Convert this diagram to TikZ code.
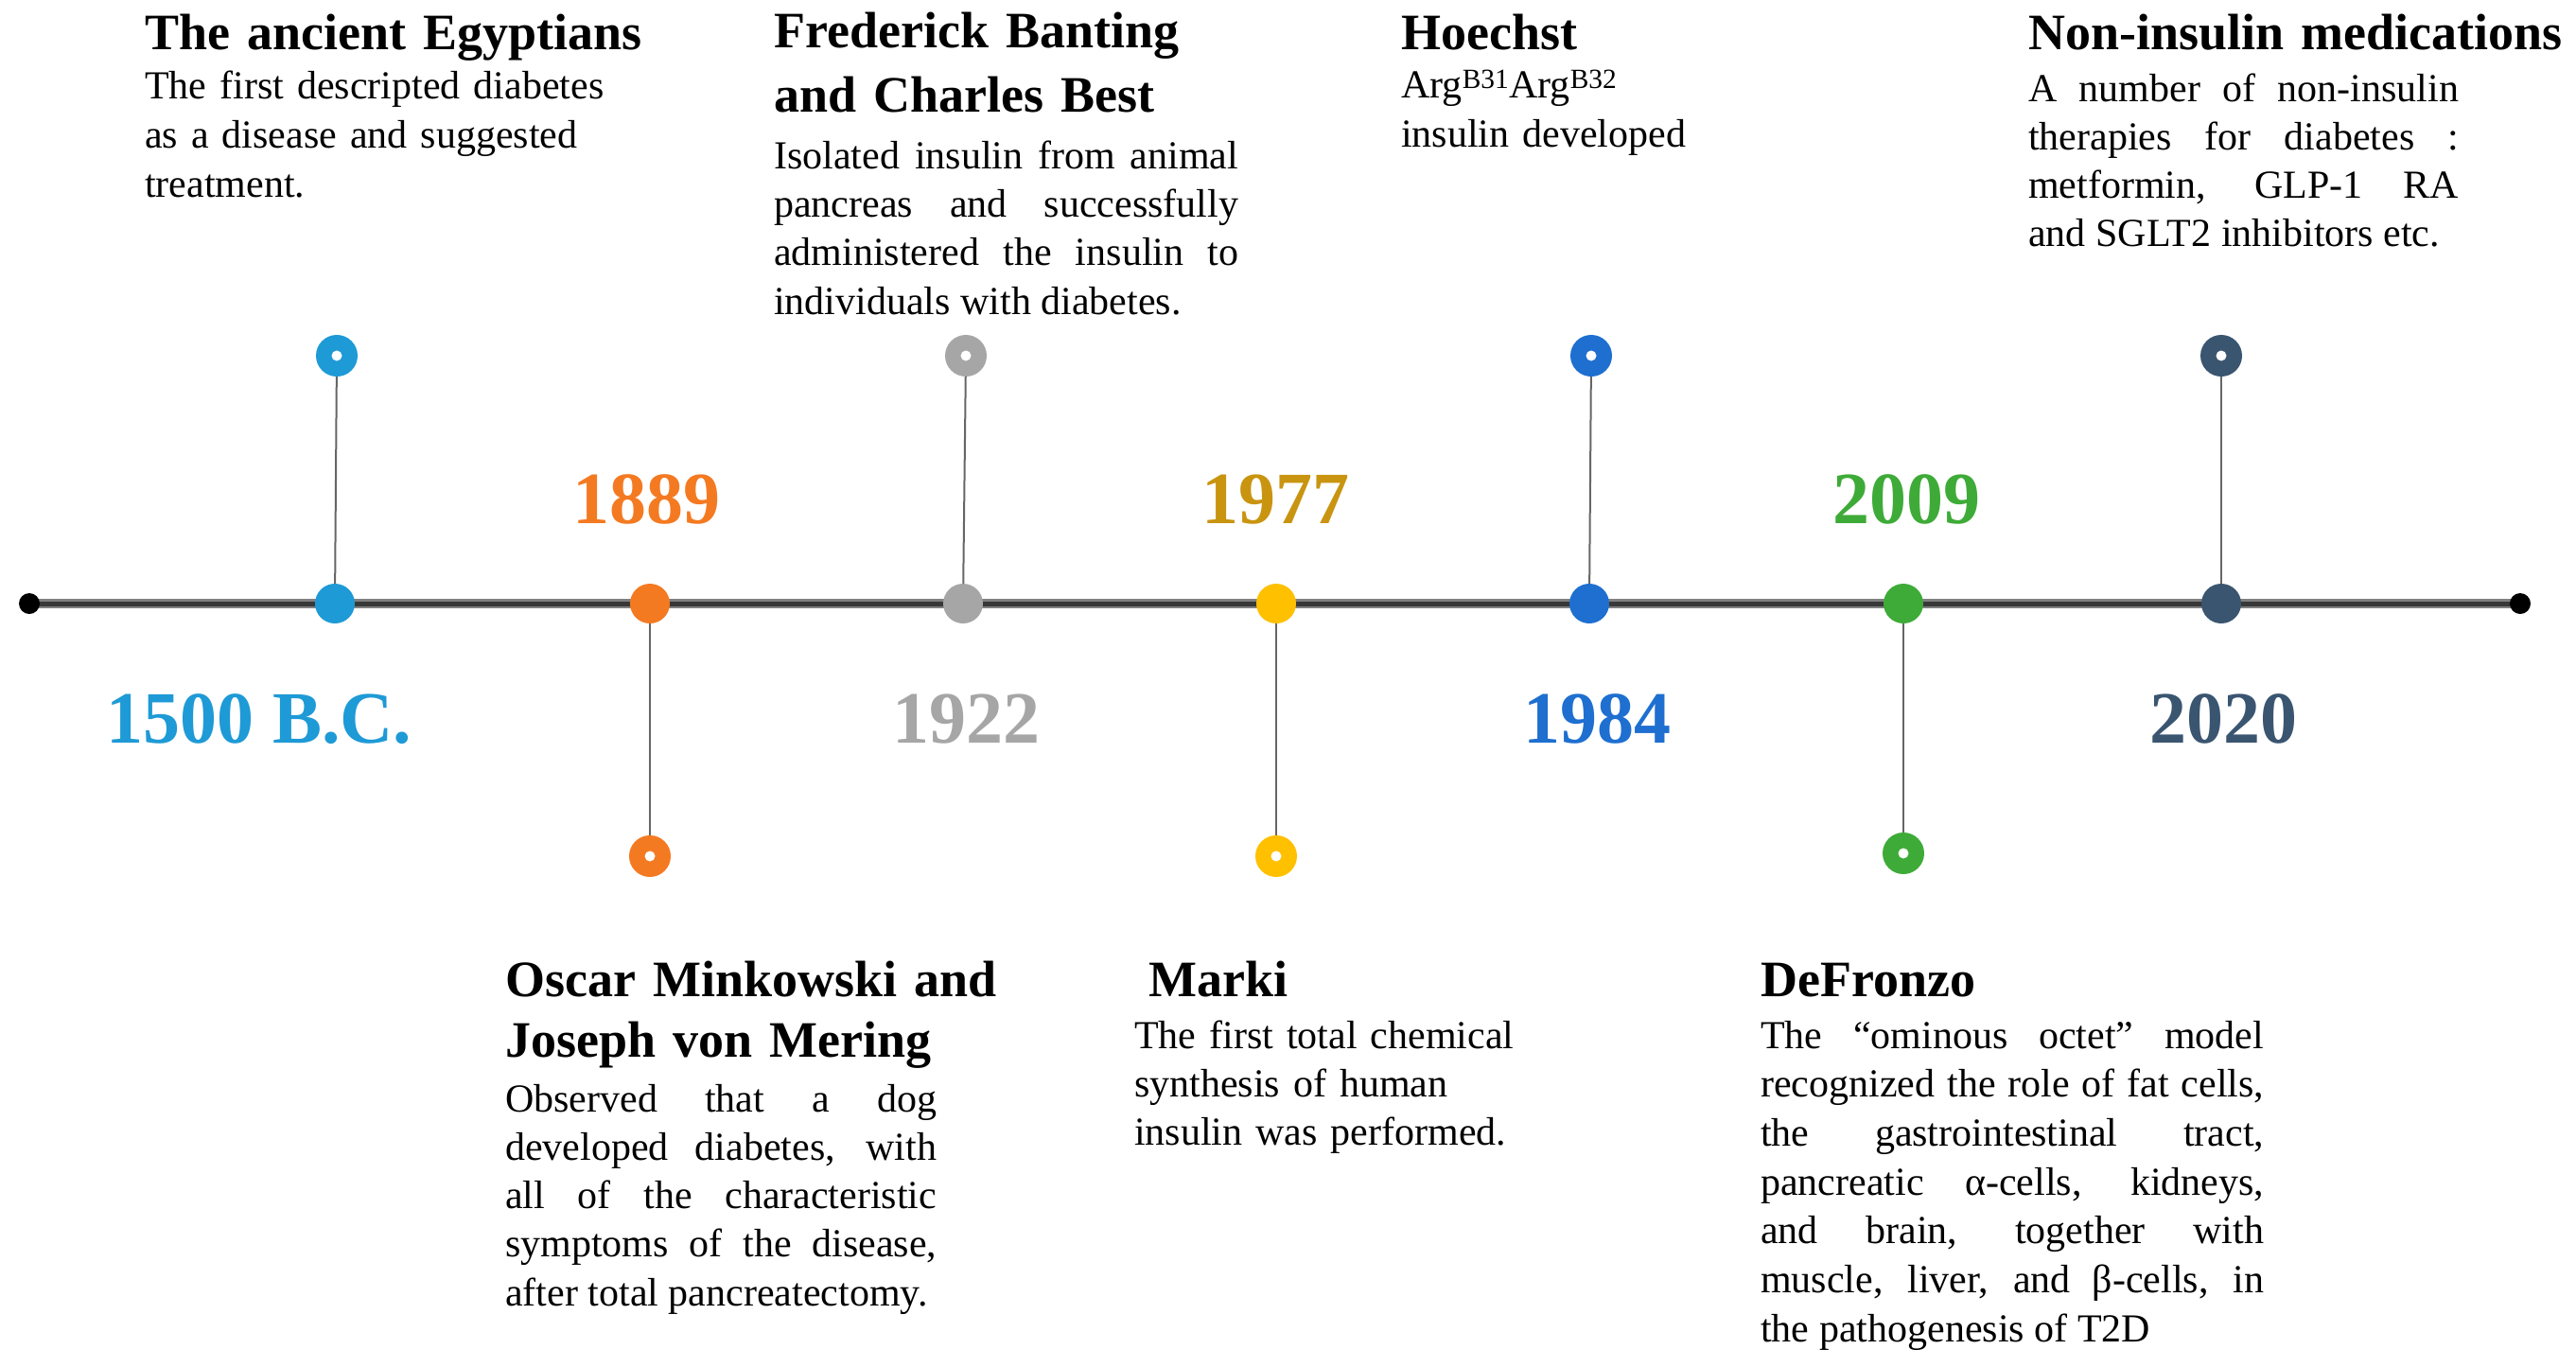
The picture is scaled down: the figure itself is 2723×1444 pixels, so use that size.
\documentclass[tikz,border=0pt]{standalone}
\usepackage{fontspec}
\setmainfont{Liberation Serif}
\definecolor{cA}{HTML}{1E9AD6}
\definecolor{cB}{HTML}{F47A22}
\definecolor{cC}{HTML}{A6A6A6}
\definecolor{cD}{HTML}{FFC000}
\definecolor{cDt}{HTML}{C99410}
\definecolor{cE}{HTML}{1E6FD0}
\definecolor{cF}{HTML}{3EAB38}
\definecolor{cG}{HTML}{3A5570}
\begin{document}
\begin{tikzpicture}[x=1pt,y=-1pt,
  dotn/.style={circle,fill=#1,minimum size=42pt,inner sep=0pt},
  ringn/.style={circle,fill=#1,minimum size=44pt,inner sep=0pt,
     path picture={\fill[white] (path picture bounding box.center) circle (5.5pt);}},
  endn/.style={circle,fill=black,minimum size=22pt,inner sep=0pt},
  conn/.style={draw=black!60,line width=2pt},
  yearn/.style={anchor=base,inner sep=0pt,font=\fontsize{78}{90}\selectfont\bfseries,text=#1},
  titlen/.style={anchor=base west,inner sep=0pt,text width=700pt,align=left,
     font=\fontsize{54}{#1}\selectfont\bfseries},
  bodyn/.style={anchor=base west,inner sep=0pt,text width=#1,align=justify,
     execute at begin node={\pretolerance=10000 \tolerance=10000 \hbadness=10000 \hyphenpenalty=10000}},
  leftn/.style={anchor=base west,inner sep=0pt,text width=600pt,align=left},
]
\useasboundingbox (0,0) rectangle (2723,1444);

% axis
\coordinate (L) at (31,638);
\coordinate (R) at (2664,638);
\draw[line width=10pt,color=black!50] (L) -- (R);
\draw[line width=5pt,color=black!78] (L) -- (R);
\node[endn] (eL) at (L) {};
\node[endn] (eR) at (R) {};

% dots on axis
\node[dotn=cA] (d1) at (354,638) {};
\node[dotn=cB] (d2) at (687,638) {};
\node[dotn=cC] (d3) at (1018,638) {};
\node[dotn=cD] (d4) at (1349,638) {};
\node[dotn=cE] (d5) at (1680,638) {};
\node[dotn=cF] (d6) at (2012,638) {};
\node[dotn=cG] (d7) at (2348,638) {};

% rings
\node[ringn=cA] (r1) at (356,376) {};
\node[ringn=cB] (r2) at (687,905) {};
\node[ringn=cC] (r3) at (1021,376) {};
\node[ringn=cD] (r4) at (1349,905) {};
\node[ringn=cE] (r5) at (1682,376) {};
\node[ringn=cF] (r6) at (2012,902) {};
\node[ringn=cG] (r7) at (2348,376) {};

% connectors
\draw[conn] (d1) -- (r1);
\draw[conn] (d2) -- (r2);
\draw[conn] (d3) -- (r3);
\draw[conn] (d4) -- (r4);
\draw[conn] (d5) -- (r5);
\draw[conn] (d6) -- (r6);
\draw[conn] (d7) -- (r7);

% years
\node[yearn=cA] (y1) at (274,785) {1500 B.C.};
\node[yearn=cB] (y2) at (683,553) {1889};
\node[yearn=cC] (y3) at (1021,785) {1922};
\node[yearn=cDt] (y4) at (1348,553) {1977};
\node[yearn=cE] (y5) at (1688,785) {1984};
\node[yearn=cF] (y6) at (2015,553) {2009};
\node[yearn=cG] (y7) at (2350,785) {2020};

% texts top
\node[titlen=66] (t1) at (153,52) {The ancient Egyptians};
\node[leftn,font=\fontsize{42}{52}\selectfont] (b1) at (153,104)
  {The first descripted diabetes\\as a disease and suggested\\treatment.};

\node[titlen=68] (t3) at (818,50) {Frederick Banting\\and Charles Best};
\node[bodyn=491pt,font=\fontsize{42}{51.4}\selectfont] (b3) at (818,178)
  {Isolated insulin from animal\linebreak pancreas and successfully\linebreak administered the insulin to\linebreak individuals with diabetes.};

\node[titlen=66] (t5) at (1481,52) {Hoechst};
\node[leftn,font=\fontsize{42}{52}\selectfont] (b5) at (1481,103)
  {Arg\textsuperscript{B31}Arg\textsuperscript{B32}\\insulin developed};

\node[titlen=66] (t7) at (2144,52) {Non-insulin medications};
\node[bodyn=455pt,font=\fontsize{42}{51}\selectfont] (b7) at (2144,107)
  {A number of non-insulin\linebreak therapies for diabetes :\linebreak metformin, GLP-1 RA\linebreak and SGLT2 inhibitors etc.};

% texts bottom
\node[titlen=64] (t2) at (534,1053) {Oscar Minkowski and\\Joseph von Mering};
\node[bodyn=456pt,font=\fontsize{42}{51.3}\selectfont] (b2) at (534,1175)
  {Observed that a dog\linebreak developed diabetes, with\linebreak all of the characteristic\linebreak symptoms of the disease,\linebreak after total pancreatectomy.};

\node[titlen=66] (t4) at (1214,1053) {Marki};
\node[leftn,font=\fontsize{42}{51}\selectfont] (b4) at (1199,1108)
  {The first total chemical\\synthesis of human\\insulin was performed.};

\node[titlen=66] (t6) at (1861,1053) {DeFronzo};
\node[bodyn=532pt,font=\fontsize{42}{51.7}\selectfont] (b6) at (1861,1108)
  {The “ominous octet” model\linebreak recognized the role of fat cells,\linebreak the gastrointestinal tract,\linebreak pancreatic α-cells, kidneys,\linebreak and brain, together with\linebreak muscle, liver, and β-cells, in\linebreak the pathogenesis of T2D};
\end{tikzpicture}
\end{document}
